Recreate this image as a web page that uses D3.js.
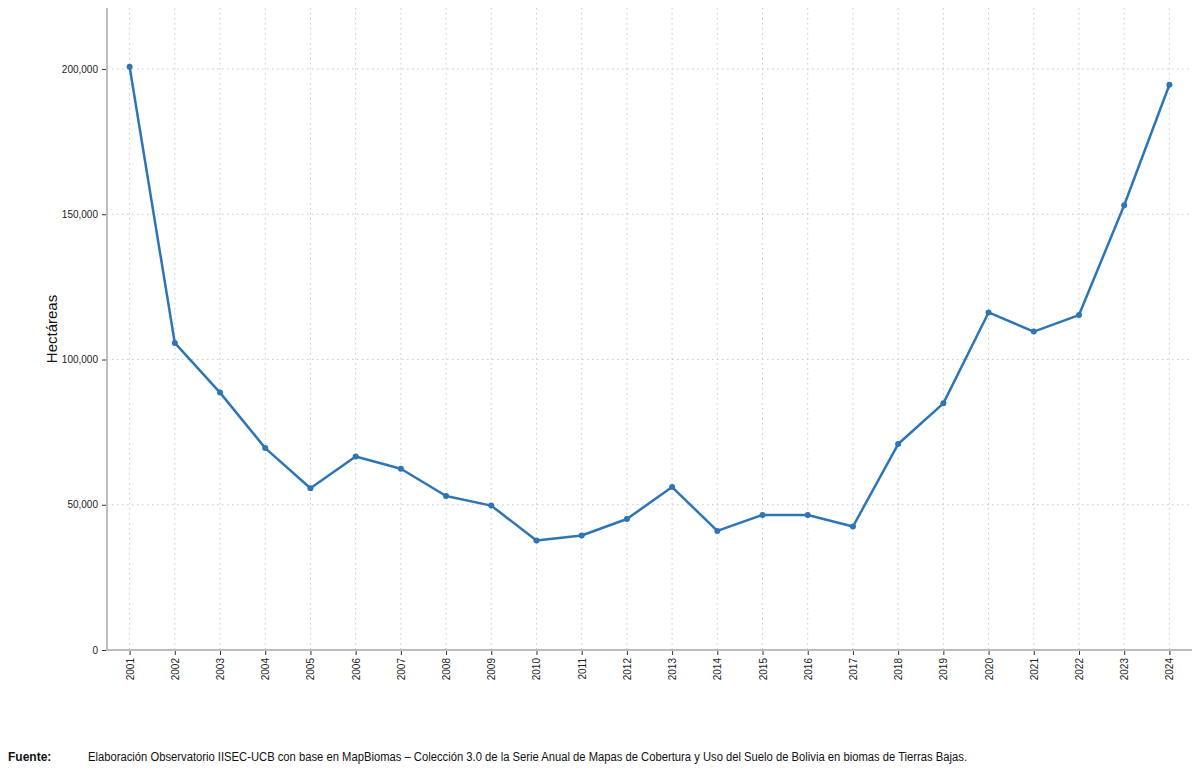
<!DOCTYPE html>
<html>
<head>
<meta charset="utf-8">
<script src="https://cdn.jsdelivr.net/npm/d3@7"></script>
<style>
  body { margin: 0; background: #fff; }
  svg { display: block; font-family: "Liberation Sans Narrow", "Arial Narrow", "Liberation Sans", Arial, sans-serif; }
  .grid line { stroke: #c8c8c8; stroke-dasharray: 1.5,3.5; }
  .axis text { fill: #222; font-size: 10px; }
  .axis .tick line { stroke: #333; }
</style>
</head>
<body>
<div id="chart"></div>
<script>
var width = 1200, height = 772;
var margin = {top: 8, right: 8, bottom: 122, left: 107};

var years = ["2001", "2002", "2003", "2004", "2005", "2006", "2007", "2008",
  "2009", "2010", "2011", "2012", "2013", "2014", "2015", "2016", "2017",
  "2018", "2019", "2020", "2021", "2022", "2023", "2024"];
var hectares = [200800, 105700, 88600, 69500, 55700, 66600, 62400, 53000,
  49700, 37700, 39400, 45100, 56100, 41000, 46500, 46500, 42500,
  70900, 84900, 116200, 109600, 115300, 153100, 194600];
var yTicks = [0, 50000, 100000, 150000, 200000];

var data = years.map(function(y, i) { return {year: y, value: hectares[i]}; });

var svg = d3.select("#chart").append("svg")
  .attr("width", width)
  .attr("height", height);

var x = d3.scalePoint()
  .domain(years)
  .range([margin.left, width - margin.right])
  .padding(0.5);

var y = d3.scaleLinear()
  .domain([0, 221000])
  .range([height - margin.bottom, margin.top]);

// grid
svg.append("g")
  .attr("class", "grid")
  .selectAll("line.h")
  .data(yTicks.slice(1))
  .enter().append("line")
    .attr("x1", margin.left)
    .attr("x2", width - margin.right)
    .attr("y1", function(d) { return y(d); })
    .attr("y2", function(d) { return y(d); });

svg.append("g")
  .attr("class", "grid")
  .selectAll("line.v")
  .data(years)
  .enter().append("line")
    .attr("x1", function(d) { return x(d); })
    .attr("x2", function(d) { return x(d); })
    .attr("y1", margin.top)
    .attr("y2", height - margin.bottom);

// axes
var yAxis = svg.append("g")
  .attr("class", "axis")
  .attr("transform", "translate(" + margin.left + ",0)")
  .call(d3.axisLeft(y).tickValues(yTicks).tickSize(5).tickPadding(4)
    .tickFormat(d3.format(",")));
yAxis.select(".domain").remove();

var xAxis = svg.append("g")
  .attr("class", "axis")
  .attr("transform", "translate(0," + (height - margin.bottom) + ")")
  .call(d3.axisBottom(x).tickSize(5).tickPadding(4));
xAxis.select(".domain").remove();
xAxis.selectAll("text")
  .attr("transform", "rotate(-90)")
  .attr("x", -8)
  .attr("y", 0)
  .attr("dy", "0.35em")
  .style("text-anchor", "end");

svg.append("line")
  .attr("x1", margin.left).attr("x2", margin.left)
  .attr("y1", margin.top).attr("y2", height - margin.bottom)
  .attr("stroke", "#bdbdbd").attr("stroke-width", 2);

svg.append("line")
  .attr("x1", margin.left - 1).attr("x2", width - margin.right)
  .attr("y1", height - margin.bottom).attr("y2", height - margin.bottom)
  .attr("stroke", "#bdbdbd").attr("stroke-width", 2);

// line
var line = d3.line()
  .x(function(d) { return x(d.year); })
  .y(function(d) { return y(d.value); });

svg.append("path")
  .datum(data)
  .attr("fill", "none")
  .attr("stroke", "#2e75b6")
  .attr("stroke-width", 2.5)
  .attr("stroke-linejoin", "round")
  .attr("d", line);

svg.selectAll(".dot")
  .data(data)
  .enter().append("circle")
    .attr("class", "dot")
    .attr("cx", function(d) { return x(d.year); })
    .attr("cy", function(d) { return y(d.value); })
    .attr("r", 3)
    .attr("fill", "#2e75b6");

// labels
svg.append("text")
  .attr("transform", "translate(57," + y(110500) + ") rotate(-90)")
  .attr("text-anchor", "middle")
  .style("font-size", "15px")
  .style("fill", "#111")
  .text("Hectáreas");

svg.append("text")
  .attr("x", 8)
  .attr("y", 761)
  .style("font-size", "12px")
  .style("font-weight", "bold")
  .style("fill", "#111")
  .text("Fuente:");

svg.append("text")
  .attr("x", 88)
  .attr("y", 761)
  .attr("textLength", 879)
  .attr("lengthAdjust", "spacingAndGlyphs")
  .style("font-size", "12px")
  .style("fill", "#111")
  .text("Elaboración Observatorio IISEC-UCB con base en MapBiomas – Colección 3.0 de la Serie Anual de Mapas de Cobertura y Uso del Suelo de Bolivia en biomas de Tierras Bajas.");
</script>
</body>
</html>
